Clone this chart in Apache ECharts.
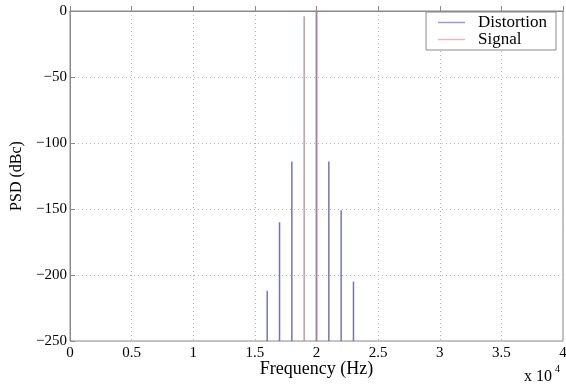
<!DOCTYPE html>
<html><head><meta charset="utf-8">
<script src="https://cdn.jsdelivr.net/npm/echarts@6/dist/echarts.min.js"></script>
<style>html,body{margin:0;padding:0;background:#fff}#c{width:566px;height:388px}</style>
</head><body><div id="c"></div>
<script>
// Frequencies in units of 1e4 Hz
var distFreq = [1.6, 1.7, 1.8, 2.0, 2.1, 2.2, 2.3];
var distPSD  = [-212, -160, -114, 0, -114, -151, -205];
var sigFreq  = [1.9, 2.0];
var sigPSD   = [-4, 0];
var floorVal = -250;

function spikes(fs, vs) {
  var d = [];
  for (var i = 0; i < fs.length; i++) {
    d.push([fs[i], floorVal]);
    d.push([fs[i], vs[i]]);
    d.push(['-', '-']);
  }
  return d;
}
var font = '"Liberation Serif","DejaVu Serif",serif';
var chart = echarts.init(document.getElementById('c'));
chart.setOption({
  animation: false,
  backgroundColor: '#fff',
  grid: {left: 70, right: 3, top: 11, bottom: 47, show: true, borderColor: '#8a8a8a', borderWidth: 1,
         containLabel: false, outerBoundsMode: 'none'},
  legend: {
    right: 10, top: 12, orient: 'vertical', itemGap: 0,
    itemWidth: 27, itemHeight: 1.5, icon: 'rect',
    backgroundColor: '#fff', borderColor: '#8a8a8a', borderWidth: 1,
    padding: [2, 9, 2, 12],
    textStyle: {fontFamily: font, fontSize: 17, color: '#000', padding: [0, 0, 0, 8]},
    data: ['Distortion', 'Signal']
  },
  xAxis: {
    type: 'value', min: 0, max: 4, interval: 0.5,
    name: 'Frequency (Hz)', nameLocation: 'middle', nameGap: 19, nameMoveOverlap: false,
    nameTextStyle: {fontFamily: font, fontSize: 18, color: '#000'},
    axisLine: {lineStyle: {color: '#8a8a8a'}},
    axisTick: {inside: true, length: 5, lineStyle: {color: '#8a8a8a'}},
    axisLabel: {fontFamily: font, fontSize: 15, color: '#000', margin: 5},
    splitLine: {show: true, lineStyle: {color: '#b8b8b8', type: [1, 3]}}
  },
  yAxis: {
    type: 'value', min: -250, max: 0, interval: 50,
    name: 'PSD (dBc)', nameLocation: 'middle', nameGap: 45,
    nameTextStyle: {fontFamily: font, fontSize: 16, color: '#000'},
    axisLine: {lineStyle: {color: '#8a8a8a'}},
    axisTick: {inside: true, length: 5, lineStyle: {color: '#8a8a8a'}},
    axisLabel: {fontFamily: font, fontSize: 15, color: '#000', margin: 3,
      formatter: function (v) { return String(v).replace('-', '\u2212'); }},
    splitLine: {show: true, lineStyle: {color: '#b8b8b8', type: [1, 3]}}
  },
  graphic: [{
    type: 'text', left: 524, top: 369,
    style: {text: 'x 10', fontFamily: font, fontSize: 16, fill: '#000'}
  }, {
    type: 'text', left: 555, top: 364,
    style: {text: '4', fontFamily: font, fontSize: 10, fill: '#000'}
  }],
  series: [{
    name: 'Distortion', type: 'line', data: spikes(distFreq, distPSD),
    symbol: 'none', connectNulls: false,
    lineStyle: {color: '#5c5ca8', width: 1.5, opacity: 0.85},
    itemStyle: {color: '#9a9ad0'}
  }, {
    name: 'Signal', type: 'line', data: spikes(sigFreq, sigPSD),
    symbol: 'none', connectNulls: false,
    lineStyle: {color: '#c07a8c', width: 1.5, opacity: 0.8},
    itemStyle: {color: '#e8b8c0'}
  }]
});
</script></body></html>
